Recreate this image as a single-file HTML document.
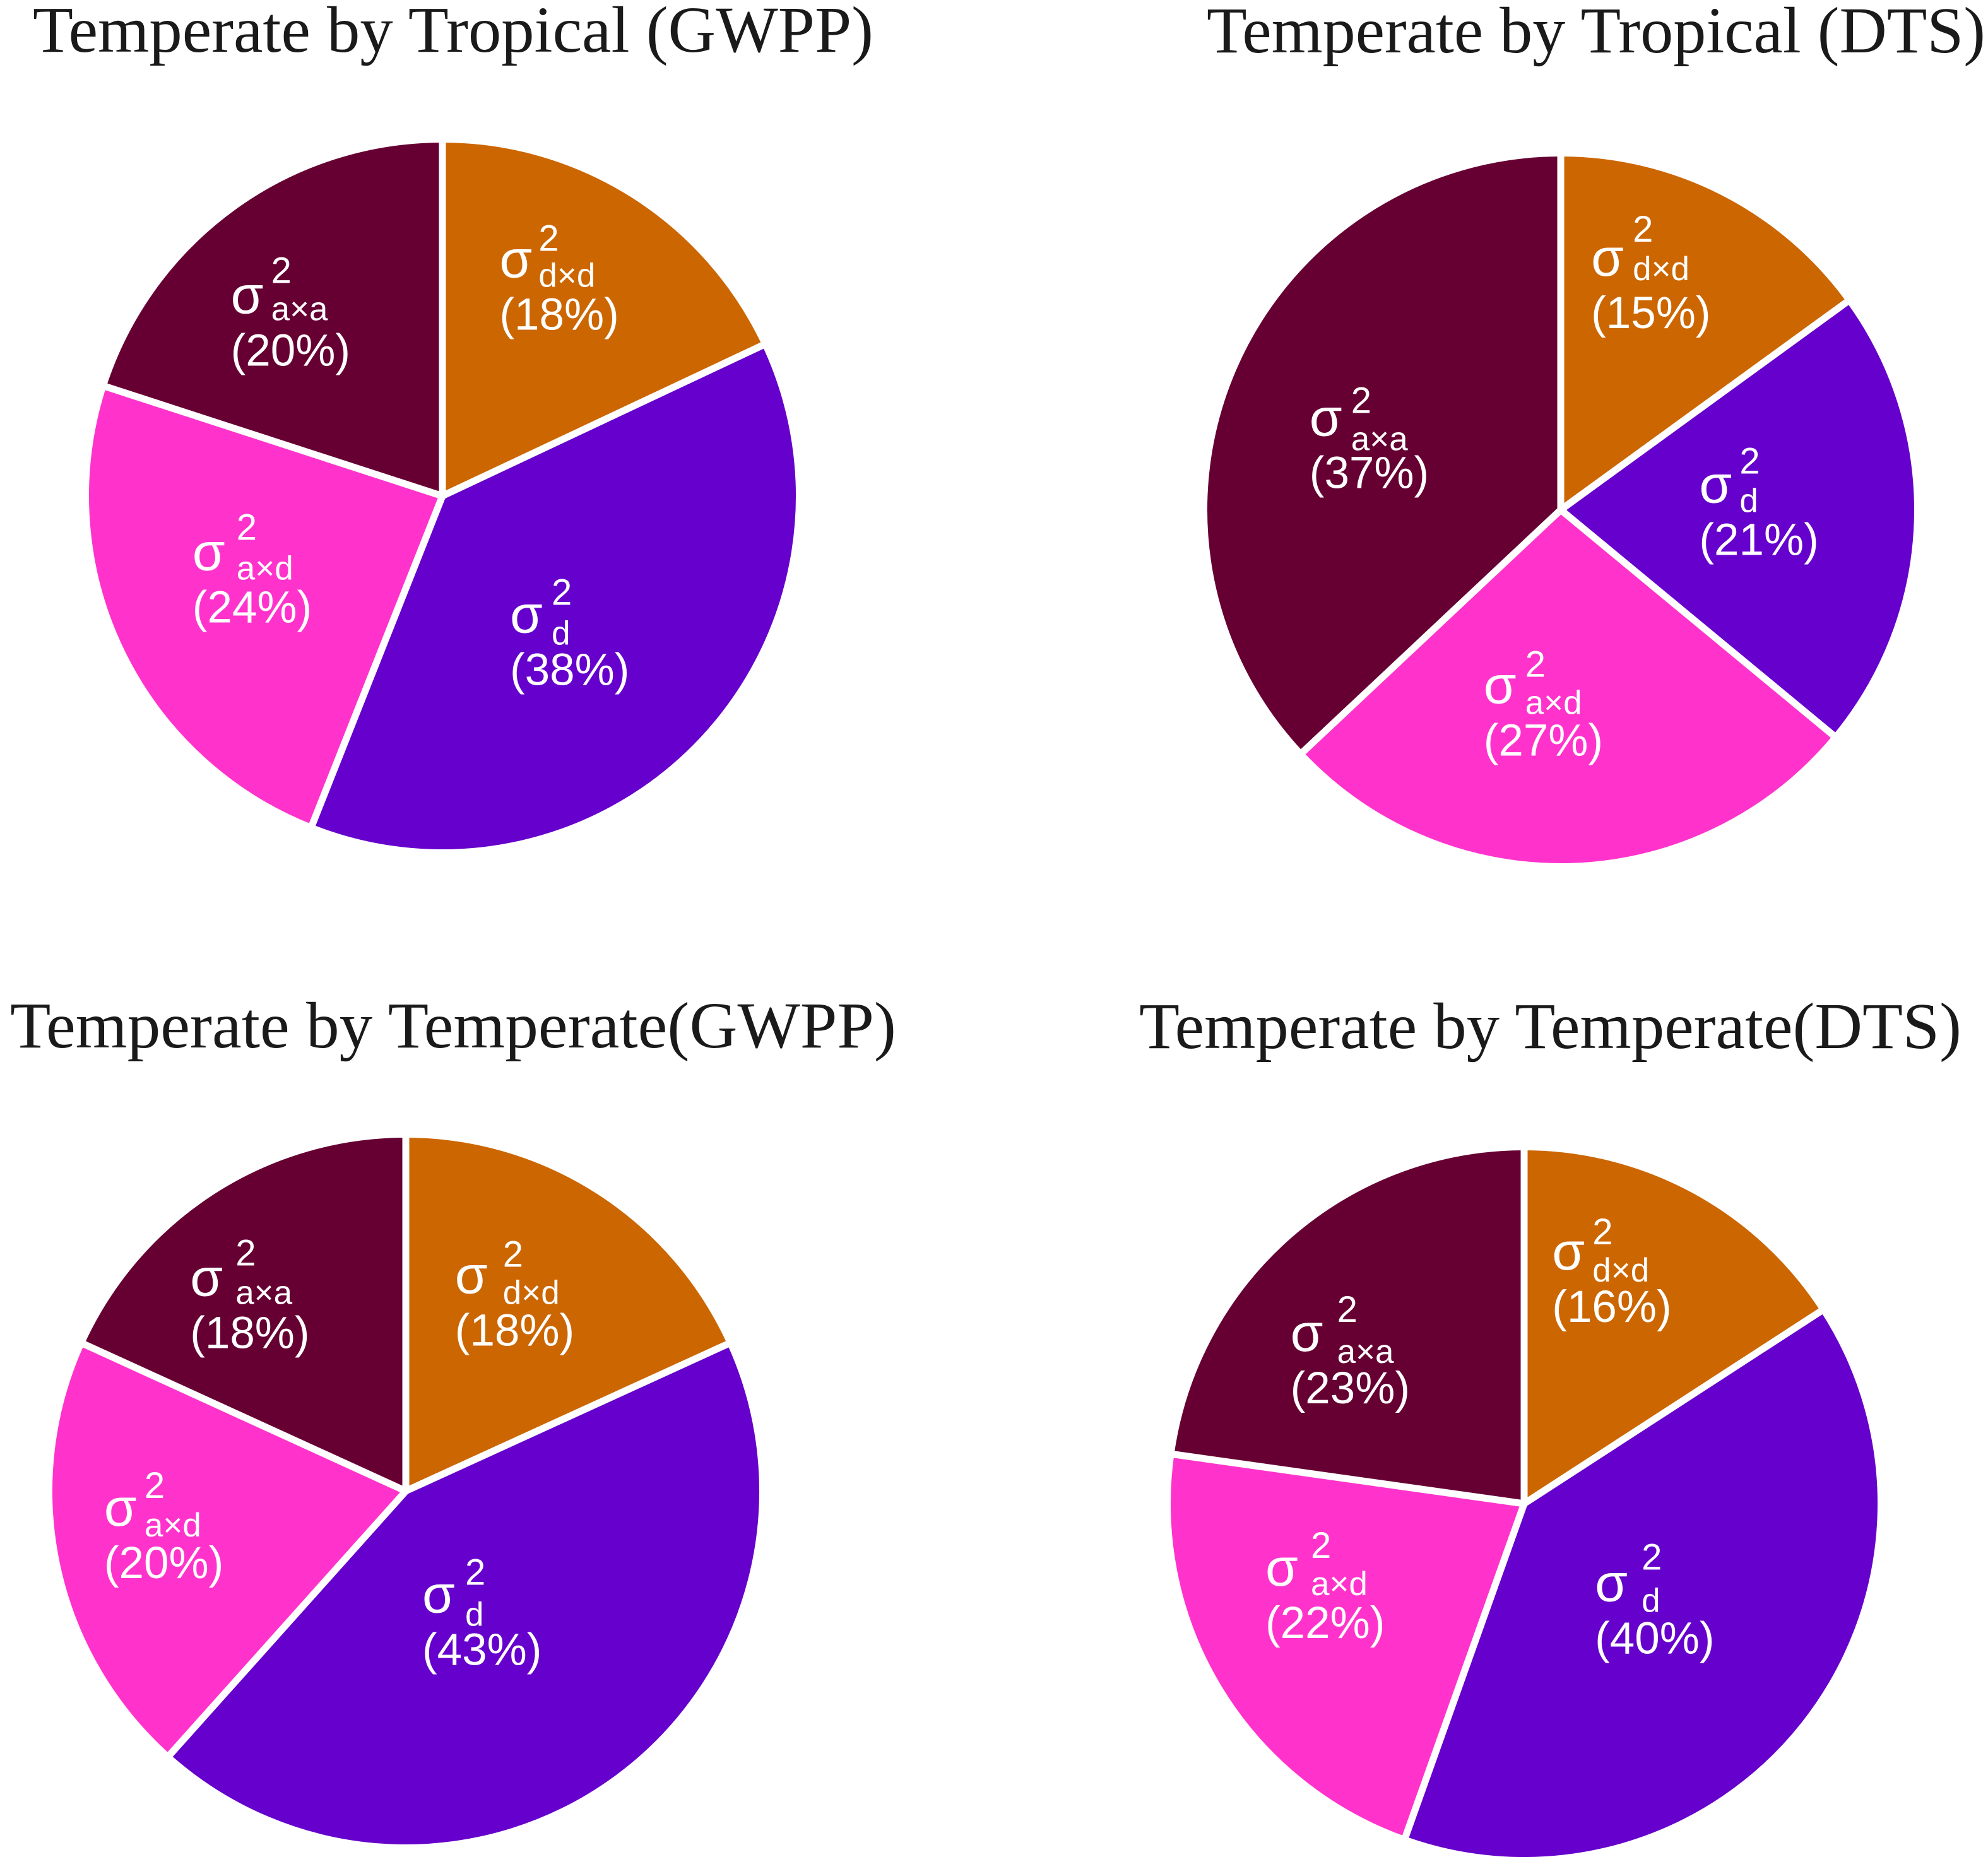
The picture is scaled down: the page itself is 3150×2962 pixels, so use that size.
<!DOCTYPE html>
<html lang="en">
<head>
<meta charset="utf-8">
<title>Variance component pie charts</title>
<style>
html,body{margin:0;padding:0;background:#fff;}
svg{display:block;}
.title{font-family:"Liberation Serif","Noto Serif CJK SC",serif;font-size:104px;fill:#1a1a1a;}
.lab{font-family:"Liberation Sans","DejaVu Sans",sans-serif;fill:#fff;}
</style>
</head>
<body>
<svg id="chart" xmlns="http://www.w3.org/2000/svg" width="3150" height="2962" viewBox="0 0 3150 2962">
  <rect x="0" y="0" width="3150" height="2962" fill="#ffffff"/>
  <text class="title" x="52" y="82" textLength="1332" lengthAdjust="spacingAndGlyphs">Temperate by Tropical (GWPP)</text>
  <text class="title" x="1912" y="83" textLength="1234" lengthAdjust="spacingAndGlyphs">Temperate by Tropical (DTS)</text>
  <text class="title" x="16" y="1660" textLength="1404" lengthAdjust="spacingAndGlyphs">Temperate by Temperate(GWPP)</text>
  <text class="title" x="1805" y="1661" textLength="1303" lengthAdjust="spacingAndGlyphs">Temperate by Temperate(DTS)</text>
</svg>
<script>
// Clockwise from 12 o'clock: d×d, d, a×d, a×a
const categories = ['d×d', 'd', 'a×d', 'a×a'];
const tropicalGwppValues = [18, 38, 24, 20];
const tropicalDtsValues = [15, 21, 27, 37];
const temperateGwppValues = [18, 43, 20, 18];
const temperateDtsValues = [16, 40, 22, 23];

const colors = ['#CC6600', '#6600CC', '#FF33CC', '#660033'];
const RADIUS = 560, STROKE = 11, LABEL_RADIUS = 308.6, LABEL_SHIFT_Y = -3;
// Label layout per slice: [dx, dy, script gap, superscript shift, subscript shift]
const panels = [
  {name: 'tropical-gwpp', values: tropicalGwppValues, cx: 701, cy: 786,
   layout: [[-75, 1, 62, 0, -4], [-118, 92, 66, -2, 0], [-117, 73, 70, -6, -4], [-154, 47, 64, -6, -8]]},
  {name: 'tropical-dts', values: tropicalDtsValues, cx: 2473, cy: 808,
   layout: [[-92, -9, 66, -12, -12], [-89, 66, 64, -4, -4], [-132, 85, 66, 0, -2], [-115, 92, 66, 6, 4]]},
  {name: 'temperate-gwpp', values: temperateGwppValues, cx: 643, cy: 2363,
   layout: [[-89, 33, 76, 0, -2], [-157, 31, 68, -2, 2], [-176, 79, 64, -2, -2], [-175, 37, 72, -6, -6]]},
  {name: 'temperate-dts', values: temperateDtsValues, cx: 2415, cy: 2383,
   layout: [[-103, -13, 64, 2, 0], [-130, 50, 74, -8, -2], [-146, 57, 72, -2, -4], [-168, 78, 74, -4, 0]]}
];

const NS = 'http://www.w3.org/2000/svg';
const svg = document.getElementById('chart');

function polar(cx, cy, r, frac) {
  const a = frac * 2 * Math.PI;
  return [cx + r * Math.sin(a), cy - r * Math.cos(a)];
}

function addText(parent, x, y, size, str, name) {
  const t = document.createElementNS(NS, 'text');
  t.setAttribute('class', 'lab');
  t.setAttribute('x', x.toFixed(1));
  t.setAttribute('y', y.toFixed(1));
  t.setAttribute('font-size', size);
  
  
  t.textContent = str;
  parent.appendChild(t);
}

panels.forEach(function (p) {
  const total = p.values.reduce(function (a, b) { return a + b; }, 0);
  const pie = document.createElementNS(NS, 'g');
  
  
  svg.appendChild(pie);
  const labels = document.createElementNS(NS, 'g');
  
  
  svg.appendChild(labels);
  let cum = 0;
  p.values.forEach(function (v, i) {
    const f0 = cum / total, f1 = (cum + v) / total, mid = (f0 + f1) / 2;
    const r = RADIUS + STROKE / 2;
    const a = polar(p.cx, p.cy, r, f0), b = polar(p.cx, p.cy, r, f1);
    const large = f1 - f0 > 0.5 ? 1 : 0;
    const path = document.createElementNS(NS, 'path');
    path.setAttribute('d', 'M' + p.cx + ' ' + p.cy + 'L' + a[0].toFixed(2) + ' ' + a[1].toFixed(2) +
      'A' + r + ' ' + r + ' 0 ' + large + ' 1 ' + b[0].toFixed(2) + ' ' + b[1].toFixed(2) + 'Z');
    path.setAttribute('fill', colors[i]);
    path.setAttribute('stroke', '#ffffff');
    path.setAttribute('stroke-width', STROKE);
    path.setAttribute('stroke-linejoin', 'round');
    
    
    pie.appendChild(path);

    const c = polar(p.cx, p.cy, LABEL_RADIUS, mid);
    const l = p.layout[i];
    const x = c[0] + l[0], y = c[1] + l[1] + LABEL_SHIFT_Y;
    addText(labels, x, y - 84, 84, 'σ', 'sigma-' + p.name + '-' + i);
    addText(labels, x + l[2], y - 126 + l[3], 58, '2', 'superscript-' + p.name + '-' + i);
    addText(labels, x + l[2], y - 65 + l[4], 53, categories[i], 'subscript-' + p.name + '-' + i);
    addText(labels, x, y - 1, 71, '(' + v + '%)', 'percent-' + p.name + '-' + i);
    cum += v;
  });
});
</script>
</body>
</html>
